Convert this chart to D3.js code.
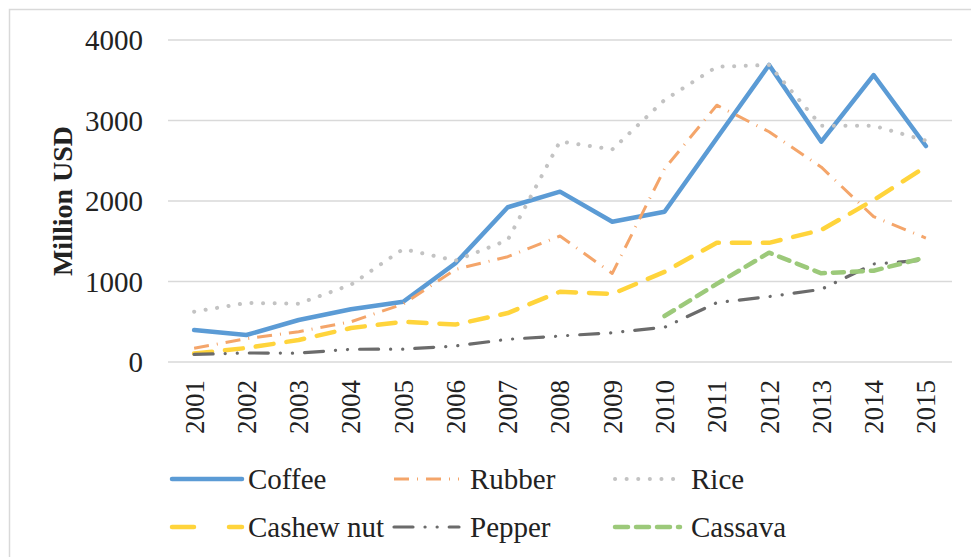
<!DOCTYPE html>
<html><head><meta charset="utf-8">
<script src="https://cdn.jsdelivr.net/npm/d3@7"></script>
<style>body{margin:0;background:#fff}svg{display:block}</style>
</head><body><svg id="c" width="971" height="557"></svg>
<script>
const years = ["2001","2002","2003","2004","2005","2006","2007","2008","2009","2010","2011","2012","2013","2014","2015"];
const yTicks = [0,1000,2000,3000,4000];
const coffee  = [397,335,522,655,749,1226,1922,2116,1743,1867,2780,3690,2737,3565,2683];
const rubber  = [170,290,377,500,720,1150,1308,1565,1100,2400,3190,2860,2420,1805,1540];
const rice    = [625,733,725,960,1404,1260,1515,2740,2640,3255,3668,3690,2935,2935,2750];
const cashew  = [105,174,273,422,500,465,608,873,845,1120,1482,1480,1640,2012,2426];
const pepper  = [95,112,110,158,160,199,282,323,364,431,737,812,903,1217,1267];
const cassava = [null,null,null,null,null,null,null,null,null,571,970,1358,1102,1134,1300];
const seriesNames = ["Coffee","Rubber","Rice","Cashew nut","Pepper","Cassava"];
const seriesValues = [coffee,rubber,rice,cashew,pepper,cassava];
const styles = [
  {color:"#5B9BD5",w:4.5,dash:null,cap:"round"},
  {color:"#F4A56A",w:3,dash:"15 8 1 8",cap:"butt"},
  {color:"#C3C3C3",w:4,dash:"0.1 11.5",cap:"round"},
  {color:"#FFD43B",w:4.5,dash:"18 13",cap:"round"},
  {color:"#6B6B6B",w:3.2,dash:"19 12 0.1 12 0.1 12",cap:"round"},
  {color:"#9CC97A",w:4.5,dash:"11 8",cap:"round"}
];
const legendDash = ["",null,null,"22 35",null,"13 8"];
const FONT = "'Liberation Serif', 'Times New Roman', Times, 'DejaVu Serif', serif";

const svg = d3.select("#c").style("font-family",FONT);
svg.append("rect").attr("x",9.5).attr("y",9.5).attr("width",1000).attr("height",700)
  .attr("fill","none").attr("stroke","#D9D9D9").attr("stroke-width",1.5);

const x = d3.scaleBand().domain(years).range([168,952]);
const y = d3.scaleLinear().domain([0,4000]).range([362,40]);

svg.append("g").selectAll("line").data(yTicks).join("line")
  .attr("x1",168).attr("x2",952).attr("y1",d=>y(d)).attr("y2",d=>y(d))
  .attr("stroke","#D9D9D9").attr("stroke-width",1.6);

const ya = svg.append("g").attr("transform","translate(143,0)")
  .call(d3.axisLeft(y).tickValues(yTicks).tickSize(0).tickPadding(0).tickFormat(d3.format("d")));
ya.attr("font-family",null).attr("font-size",null);
ya.select(".domain").remove();
ya.selectAll("text").style("font-family",FONT).style("font-size","29px").attr("fill","#222").attr("dy","0.34em");

const xa = svg.append("g").attr("transform","translate(0,380)")
  .call(d3.axisBottom(x).tickSize(0).tickPadding(0));
xa.attr("font-family",null).attr("font-size",null);
xa.select(".domain").remove();
xa.selectAll("text").style("font-family",FONT).style("font-size","27px").attr("fill","#222")
  .attr("text-anchor","end").attr("transform","rotate(-90)").attr("x",0).attr("y",0).attr("dy","0.35em");

svg.append("text").attr("transform","translate(62,201) rotate(-90)").attr("text-anchor","middle")
  .attr("dy","0.35em").style("font-family",FONT).style("font-size","28px").attr("font-weight","bold").attr("fill","#222").text("Million USD");

const line = d3.line().defined(d=>d!=null).x((d,i)=>x(years[i])+x.bandwidth()/2).y(d=>y(d));
seriesValues.forEach((vals,k)=>{
  const s = styles[k];
  const p = svg.append("path").datum(vals).attr("d",line).attr("fill","none")
    .attr("stroke",s.color).attr("stroke-width",s.w).attr("stroke-linecap",s.cap).attr("stroke-linejoin","round");
  if(s.dash) p.attr("stroke-dasharray",s.dash);
});

const colX = [172,394,615], rowY = [479,527];
seriesNames.forEach((name,k)=>{
  const s = styles[k];
  const cx = colX[k%3], cy = rowY[Math.floor(k/3)];
  const g = svg.append("g");
  const l = g.append("line").attr("x1",cx).attr("x2",cx+(k%3===0?70:65)).attr("y1",cy).attr("y2",cy)
    .attr("stroke",s.color).attr("stroke-width",s.w).attr("stroke-linecap",s.cap);
  const d = legendDash[k]!=null ? legendDash[k] : s.dash;
  if(d) l.attr("stroke-dasharray",d);
  g.append("text").attr("x",k%3===0?248:(k%3===1?470:691)).attr("y",cy).attr("dy","0.33em")
    .style("font-family",FONT).style("font-size","29px").attr("fill","#222").text(name);
});
</script></body></html>
